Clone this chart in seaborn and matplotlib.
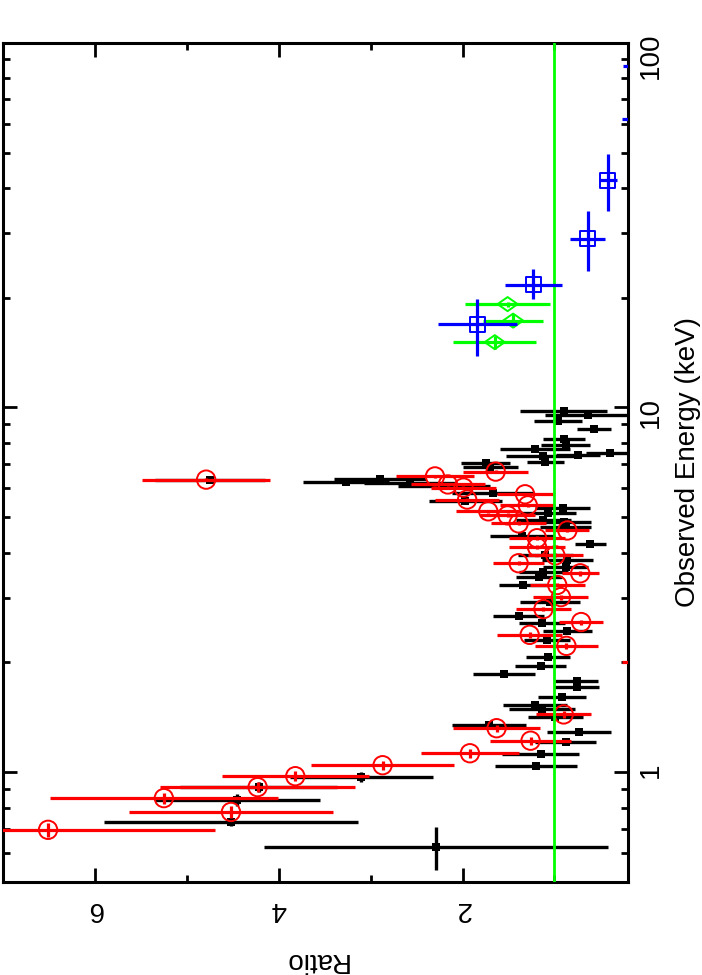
import numpy as np
import pandas as pd
import matplotlib
matplotlib.use("Agg")
import matplotlib.pyplot as plt
import seaborn as sns
from matplotlib.ticker import MultipleLocator, LogLocator, NullFormatter

# black data set (filled squares)
blk_energy = [0.624, 0.731, 0.839, 0.910, 0.969, 1.04, 1.12, 1.21, 1.29, 1.35,
              1.42, 1.49, 1.53, 1.61, 1.71, 1.78, 1.86, 1.95, 2.07, 2.31,
              2.44, 2.57, 2.68, 2.93, 3.26, 3.43, 3.54, 3.65, 3.81, 3.95,
              4.22, 4.45, 4.69, 4.84, 4.91, 5.12, 5.29, 5.55, 5.84, 6.10,
              6.22, 6.26, 6.34, 6.38, 6.88, 7.05, 7.10, 7.37, 7.43, 7.50,
              7.70, 7.90, 8.20, 8.74, 9.20, 9.55, 9.80]
blk_energy_err = [0.084, 0.02, 0.03, 0.03, 0.03, 0.02, 0.02, 0.02, 0.02, 0.02,
                  0.02, 0.02, 0.02, 0.02, 0.02, 0.02, 0.02, 0.03, 0.03, 0.03,
                  0.03, 0.03, 0.03, 0.04, 0.04, 0.04, 0.04, 0.04, 0.05, 0.05,
                  0.05, 0.05, 0.05, 0.05, 0.05, 0.06, 0.06, 0.06, 0.06, 0.06,
                  0.06, 0.06, 0.06, 0.06, 0.07, 0.07, 0.07, 0.07, 0.07, 0.07,
                  0.08, 0.08, 0.08, 0.09, 0.09, 0.09, 0.10]
blk_ratio = [2.29, 4.52, 4.45, 4.22, 3.10, 1.20, 1.15, 0.88, 0.73, 1.71,
             0.99, 1.14, 1.21, 0.92, 0.76, 0.76, 1.55, 1.15, 1.07, 1.08,
             0.86, 1.14, 1.39, 1.05, 1.34, 1.17, 1.12, 0.88, 0.86, 1.10,
             0.61, 1.35, 0.88, 0.90, 1.12, 1.07, 0.91, 1.97, 1.67, 2.20,
             2.57, 3.27, 4.75, 2.90, 1.70, 1.75, 1.10, 1.12, 0.74, 0.40,
             1.21, 0.88, 0.90, 0.57, 0.96, 0.64, 0.90]
blk_ratio_err = [1.87, 1.38, 0.90, 0.85, 0.78, 0.45, 0.42, 0.33, 0.35, 0.40,
                 0.30, 0.36, 0.35, 0.26, 0.24, 0.23, 0.34, 0.28, 0.24, 0.25,
                 0.27, 0.25, 0.28, 0.33, 0.26, 0.25, 0.27, 0.25, 0.28, 0.30,
                 0.17, 0.35, 0.28, 0.30, 0.30, 0.30, 0.30, 0.40, 0.45, 0.50,
                 0.50, 0.47, 0.60, 0.50, 0.30, 0.27, 0.20, 0.41, 0.24, 0.26,
                 0.38, 0.27, 0.23, 0.19, 0.26, 0.46, 0.47]

# red data set (open circles)
red_energy = [0.695, 0.778, 0.849, 0.910, 0.975, 1.045, 1.127, 1.22, 1.32, 1.44,
              2.00, 2.22, 2.38, 2.58, 2.80, 3.02, 3.26, 3.51, 3.74, 3.93,
              4.14, 4.38, 4.60, 4.81, 5.06, 5.19, 5.39, 5.59, 5.78, 6.03,
              6.15, 6.34, 6.47, 6.67]
red_energy_err = [0.03, 0.03, 0.03, 0.03, 0.03, 0.03, 0.03, 0.03, 0.03, 0.03,
                  0.04, 0.04, 0.04, 0.04, 0.04, 0.05, 0.05, 0.05, 0.05, 0.05,
                  0.05, 0.05, 0.05, 0.06, 0.06, 0.06, 0.06, 0.06, 0.06, 0.07,
                  0.07, 0.07, 0.07, 0.07]
red_ratio = [6.51, 4.52, 5.25, 4.23, 3.82, 2.87, 1.92, 1.26, 1.63, 0.90,
             0.07, 0.87, 1.27, 0.71, 1.12, 0.93, 0.97, 0.72, 1.39, 0.99,
             1.19, 1.19, 0.86, 1.39, 1.51, 1.72, 1.29, 1.95, 1.32, 1.99,
             2.16, 4.79, 2.30, 1.64]
red_ratio_err = [1.82, 1.11, 1.24, 1.06, 0.80, 0.78, 0.53, 0.44, 0.47, 0.30,
                 0.20, 0.34, 0.35, 0.24, 0.30, 0.30, 0.30, 0.20, 0.28, 0.30,
                 0.30, 0.30, 0.24, 0.30, 0.30, 0.35, 0.30, 0.35, 0.30, 0.35,
                 0.40, 0.70, 0.42, 0.35]

# green data set (open diamonds)
grn_energy = [15.1, 17.3, 19.2]
grn_energy_err = [0.6, 0.7, 0.3]
grn_ratio = [1.65, 1.45, 1.51]
grn_ratio_err = [0.45, 0.33, 0.46]

# blue data set (open squares)
blu_energy = [16.9, 21.7, 29.0, 42.0, 61.7, 86.5]
blu_energy_lo = [3.1, 1.9, 5.3, 7.5, 6.0, 8.0]
blu_energy_hi = [2.9, 2.3, 5.6, 7.6, 6.0, 8.0]
blu_ratio = [1.84, 1.23, 0.64, 0.42, 0.0, 0.0]
blu_ratio_err = [0.43, 0.31, 0.19, 0.10, 0.27, 0.25]

sns.set_style("ticks")
plt.rcParams['font.family'] = ['Liberation Sans', 'DejaVu Sans']
plt.rcParams['font.size'] = 20
plt.rcParams['text.color'] = 'black'
plt.rcParams['axes.labelcolor'] = 'black'
plt.rcParams['xtick.color'] = 'black'
plt.rcParams['ytick.color'] = 'black'

GREEN = '#00ff00'

fig = plt.figure(figsize=(7.02, 9.75), dpi=100)
ax = fig.add_axes([0.0043, 0.0954, 0.8903, 0.8608])

blk = pd.DataFrame({"ratio": blk_ratio, "energy": blk_energy})
red = pd.DataFrame({"ratio": red_ratio, "energy": red_energy})
grn = pd.DataFrame({"ratio": grn_ratio, "energy": grn_energy})
blu = pd.DataFrame({"ratio": blu_ratio, "energy": blu_energy})

ax.errorbar(blk_ratio, blk_energy, xerr=blk_ratio_err, yerr=blk_energy_err,
            fmt='none', ecolor='black', elinewidth=2.4, zorder=2)
sns.scatterplot(data=blk, x="ratio", y="energy", marker='s', color='black',
                s=40, linewidth=0, ax=ax, zorder=3)

ax.errorbar(red_ratio, red_energy, xerr=red_ratio_err, yerr=red_energy_err,
            fmt='none', ecolor='red', elinewidth=2.3, zorder=4)
sns.scatterplot(data=red, x="ratio", y="energy", marker='o', color='red',
                facecolor='none', edgecolor='red', s=175, linewidth=1.4,
                ax=ax, zorder=5)

ax.axvline(1.0, color=GREEN, lw=2.0, zorder=6)

diamond = [(-1, 0), (0, 0.7), (1, 0), (0, -0.7), (-1, 0)]
ax.errorbar(grn_ratio, grn_energy, xerr=grn_ratio_err, yerr=grn_energy_err,
            fmt='none', ecolor=GREEN, elinewidth=2.3, zorder=7)
sns.scatterplot(data=grn, x="ratio", y="energy", marker=diamond, color=GREEN,
                facecolor='none', edgecolor=GREEN, s=210, linewidth=1.4,
                ax=ax, zorder=8)

ax.errorbar(blu_ratio, blu_energy, xerr=blu_ratio_err,
            yerr=[blu_energy_lo, blu_energy_hi],
            fmt='none', ecolor='blue', elinewidth=2.3, zorder=9)
sns.scatterplot(data=blu, x="ratio", y="energy", marker='s', color='blue',
                facecolor='none', edgecolor='blue', s=120, linewidth=1.4,
                ax=ax, zorder=10)

ax.set_yscale('log')
ax.set_xlim(7.0, 0.2)
ax.set_ylim(0.5, 100)

ax.xaxis.set_major_locator(MultipleLocator(2))
ax.xaxis.set_minor_locator(MultipleLocator(1))
ax.set_yticks([1, 10, 100], labels=['1', '10', '100'])
ax.yaxis.set_minor_locator(LogLocator(base=10, subs=np.arange(2, 10)))
ax.yaxis.set_minor_formatter(NullFormatter())

for side in ax.spines.values():
    side.set_linewidth(2.2)
    side.set_color('black')

ax.tick_params(axis='both', which='both', direction='in', width=2.0,
               top=True, bottom=True, left=True, right=True,
               color='black', labelcolor='black')
ax.tick_params(axis='both', which='major', length=10)
ax.tick_params(axis='both', which='minor', length=5)
ax.tick_params(axis='x', labelrotation=180, pad=10, labelsize=20)
ax.tick_params(axis='y', labelleft=False, labelright=True, labelrotation=90,
               pad=7, labelsize=20)

ax.set_xlabel("Ratio", rotation=180, fontsize=20, labelpad=18, color='black')
ax.yaxis.set_label_position('right')
ax.set_ylabel("Observed Energy (keV)", rotation=90, fontsize=20, labelpad=8,
              color='black')

plt.savefig("out.png", dpi=100)
